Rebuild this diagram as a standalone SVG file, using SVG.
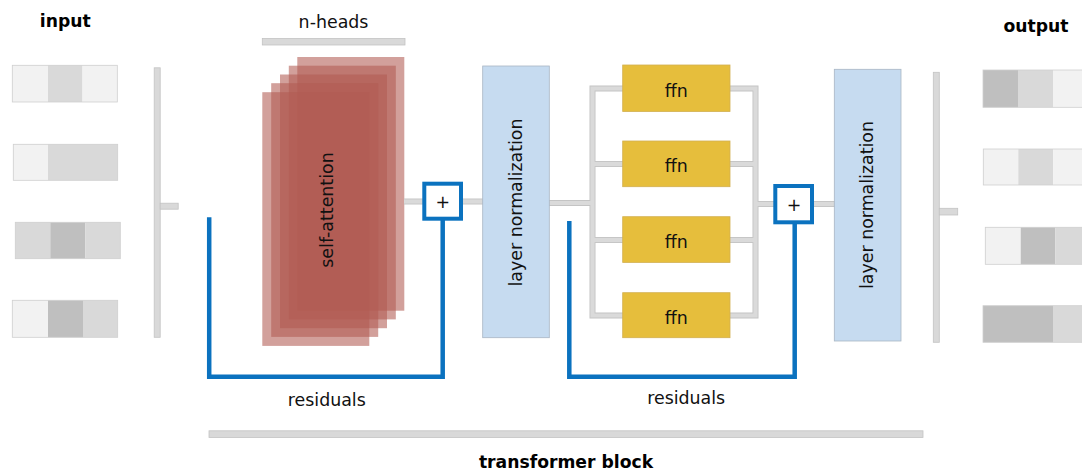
<svg xmlns="http://www.w3.org/2000/svg" xmlns:xlink="http://www.w3.org/1999/xlink" width="1082" height="471" viewBox="0 0 1082 471">
  <style>
    text { font-family: "DejaVu Sans", Verdana, sans-serif; font-size: 17.4px; fill: #111; }
    .title { font-weight: bold; font-size: 17.2px; fill: #000; }
    .mid { text-anchor: middle; }
    .c1 { fill: #f2f2f2; }
    .c2 { fill: #d9d9d9; }
    .c3 { fill: #bfbfbf; }
    .vec-frame { fill: none; stroke: #cfcfcf; stroke-width: 0.8; }
    .bar { fill: #d9d9d9; stroke: #c3c3c3; stroke-width: 0.8; }
    .head { fill: #b15b53; fill-opacity: 0.58; }
    .norm { fill: #c6dbf0; stroke: #a9b6c4; stroke-width: 0.8; }
    .ffn { fill: #e6be3c; stroke: #d2b050; stroke-width: 0.8; }
    .add { fill: #ffffff; stroke: #0b72bf; stroke-width: 4; }
    .wire-edge { fill: none; stroke: #c4c4c4; stroke-width: 6; }
    .wire-core { fill: none; stroke: #dadada; stroke-width: 4.2; }
    .residual { fill: none; stroke: #0b72bf; stroke-width: 4.5; stroke-linejoin: miter; }
  </style>
  <defs>
    <!-- gray data-flow wires, drawn twice (edge + core) -->
    <g id="wire-paths">
      <path d="M404,201.5 H423"/>
      <path d="M462,201.5 H483"/>
      <path d="M549,203 H592.5"/>
      <path d="M623,88.5 H592.5 V315.5 H623"/>
      <path d="M592.5,164 H623"/>
      <path d="M592.5,240 H623"/>
      <path d="M730,88.5 H755.5 V315.5 H730"/>
      <path d="M730,164 H755.5"/>
      <path d="M730,240 H755.5"/>
      <path d="M755.5,204 H774"/>
      <path d="M813,204 H835"/>
    </g>
  </defs>

  <rect width="1082" height="471" fill="#ffffff"/>

  <!-- input tokens -->
  <g id="input">
    <text class="title mid" x="65.3" y="26.5">input</text>
    <g id="in-vec-1">
      <rect class="c1" x="12.3" y="65.3" width="35.7" height="36.7"/>
      <rect class="c2" x="48" y="65.3" width="34.5" height="36.7"/>
      <rect class="c1" x="82.5" y="65.3" width="34.8" height="36.7"/>
      <rect class="vec-frame" x="12.3" y="65.3" width="105" height="36.7"/>
    </g>
    <g id="in-vec-2">
      <rect class="c1" x="13.3" y="144.3" width="34.7" height="36"/>
      <rect class="c2" x="48" y="144.3" width="69.7" height="36"/>
      <rect class="vec-frame" x="13.3" y="144.3" width="104.4" height="36"/>
    </g>
    <g id="in-vec-3">
      <rect class="c2" x="15.3" y="222.3" width="35" height="36.4"/>
      <rect class="c3" x="50.3" y="222.3" width="35" height="36.4"/>
      <rect class="c2" x="85.3" y="222.3" width="35" height="36.4"/>
      <rect class="vec-frame" x="15.3" y="222.3" width="105" height="36.4"/>
    </g>
    <g id="in-vec-4">
      <rect class="c1" x="12.3" y="300.3" width="35.7" height="37"/>
      <rect class="c3" x="48" y="300.3" width="35" height="37"/>
      <rect class="c2" x="83" y="300.3" width="34.7" height="37"/>
      <rect class="vec-frame" x="12.3" y="300.3" width="105.4" height="37"/>
    </g>
  </g>

  <!-- input bracket -->
  <g id="in-bracket">
    <rect class="bar" x="154.2" y="67.8" width="6" height="269.5"/>
    <rect class="bar" x="160.2" y="203.2" width="18" height="6"/>
  </g>

  <!-- multi-head self-attention -->
  <g id="self-attention">
    <text class="mid" x="333.5" y="28">n-heads</text>
    <rect class="bar" x="262.3" y="38.4" width="142.7" height="6.6"/>
    <rect class="head" x="297.3" y="57" width="107" height="253.7"/>
    <rect class="head" x="288.8" y="65.7" width="107" height="253.7"/>
    <rect class="head" x="280" y="74.5" width="107" height="253.7"/>
    <rect class="head" x="271.2" y="83.2" width="107" height="253.7"/>
    <rect class="head" x="262.3" y="92.2" width="107" height="253.7"/>
    <text class="mid" transform="translate(333.3,210) rotate(-90)">self-attention</text>
  </g>

  <!-- connectors -->
  <g id="connectors">
    <use xlink:href="#wire-paths" href="#wire-paths" class="wire-edge"/>
    <use xlink:href="#wire-paths" href="#wire-paths" class="wire-core"/>
    <path class="residual" d="M209.2,217.3 V376.8 H442.7 V220"/>
    <path class="residual" d="M569.3,221 V376.8 H794.7 V223"/>
  </g>

  <!-- residual additions -->
  <g id="add-1">
    <rect class="add" x="424.3" y="183.7" width="36.7" height="35"/>
    <text class="mid" x="442.7" y="208.3">+</text>
  </g>
  <g id="add-2">
    <rect class="add" x="775.3" y="186" width="36.7" height="36.3"/>
    <text class="mid" x="794" y="211.3">+</text>
  </g>

  <!-- first layer normalization -->
  <g id="norm-1">
    <rect class="norm" x="482.7" y="66" width="66.6" height="271.7"/>
    <text class="mid" transform="translate(521.6,202.5) rotate(-90)">layer normalization</text>
  </g>

  <!-- feed-forward networks -->
  <g id="ffn-1">
    <rect class="ffn" x="622.7" y="65" width="107.3" height="46.5"/>
    <text class="mid" x="676.3" y="96.6">ffn</text>
  </g>
  <g id="ffn-2">
    <rect class="ffn" x="622.7" y="141" width="107.3" height="45.7"/>
    <text class="mid" x="676.3" y="172.2">ffn</text>
  </g>
  <g id="ffn-3">
    <rect class="ffn" x="622.7" y="216.7" width="107.3" height="45.7"/>
    <text class="mid" x="676.3" y="247.8">ffn</text>
  </g>
  <g id="ffn-4">
    <rect class="ffn" x="622.7" y="292.7" width="107.3" height="45"/>
    <text class="mid" x="676.3" y="323.5">ffn</text>
  </g>

  <!-- second layer normalization -->
  <g id="norm-2">
    <rect class="norm" x="834.3" y="69.3" width="66.7" height="271.7"/>
    <text class="mid" transform="translate(873.2,205) rotate(-90)">layer normalization</text>
  </g>

  <!-- output bracket -->
  <g id="out-bracket">
    <rect class="bar" x="933.3" y="72.3" width="6" height="270"/>
    <rect class="bar" x="939.3" y="208.3" width="18.4" height="6.7"/>
  </g>

  <!-- output tokens -->
  <g id="output">
    <text class="title mid" x="1036" y="32.3">output</text>
    <g id="out-vec-1">
      <rect class="c3" x="983" y="70" width="35" height="37.3"/>
      <rect class="c2" x="1018" y="70" width="35" height="37.3"/>
      <rect class="c1" x="1053" y="70" width="35" height="37.3"/>
      <rect class="vec-frame" x="983" y="70" width="105" height="37.3"/>
    </g>
    <g id="out-vec-2">
      <rect class="c1" x="983.3" y="149" width="35" height="36"/>
      <rect class="c2" x="1018.3" y="149" width="35" height="36"/>
      <rect class="c1" x="1053.3" y="149" width="35" height="36"/>
      <rect class="vec-frame" x="983.3" y="149" width="105" height="36"/>
    </g>
    <g id="out-vec-3">
      <rect class="c1" x="985.3" y="227.3" width="35.4" height="37"/>
      <rect class="c3" x="1020.7" y="227.3" width="34.6" height="37"/>
      <rect class="c2" x="1055.3" y="227.3" width="35" height="37"/>
      <rect class="vec-frame" x="985.3" y="227.3" width="105" height="37"/>
    </g>
    <g id="out-vec-4">
      <rect class="c3" x="983" y="305.7" width="70" height="36.6"/>
      <rect class="c2" x="1053" y="305.7" width="35" height="36.6"/>
      <rect class="vec-frame" x="983" y="305.7" width="105" height="36.6"/>
    </g>
  </g>

  <!-- labels under the residual loops and the block span -->
  <g id="labels">
    <text class="mid" x="326.8" y="406.2">residuals</text>
    <text class="mid" x="686.2" y="404.4">residuals</text>
    <rect class="bar" x="209" y="430.8" width="714" height="6.8"/>
    <text class="title mid" x="566" y="468">transformer block</text>
  </g>
</svg>
